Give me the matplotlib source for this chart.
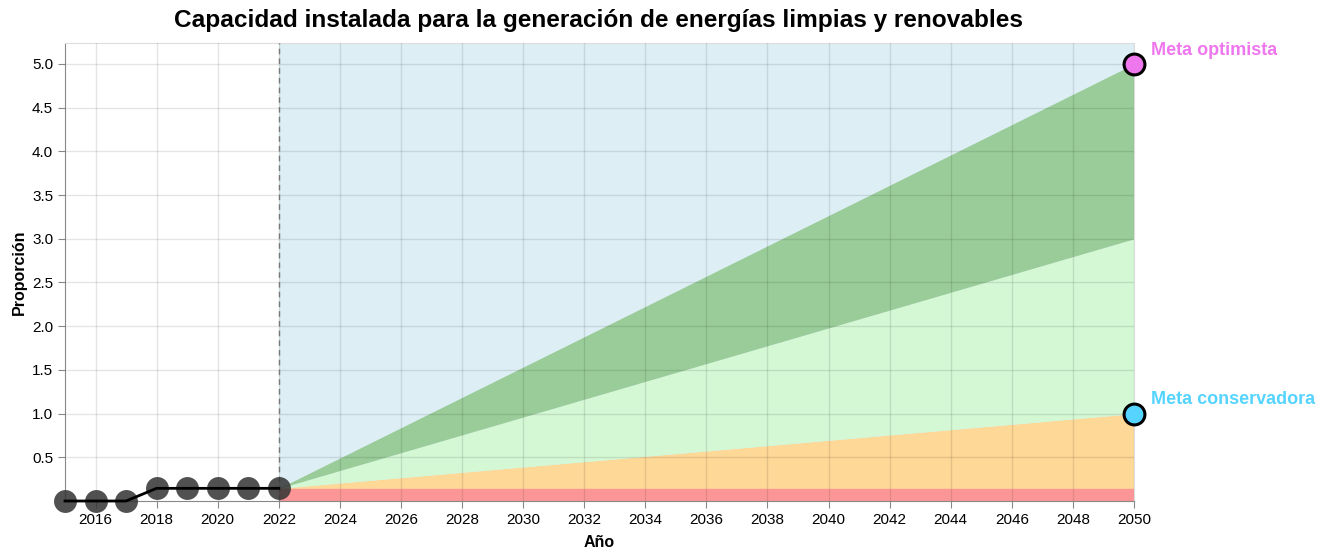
import numpy as np
import matplotlib
matplotlib.use("Agg")
import matplotlib.pyplot as plt

plt.rcParams['font.family'] = ['Liberation Sans', 'DejaVu Sans']

# historical data
years_hist = [2015, 2016, 2017, 2018, 2019, 2020, 2021, 2022]
values_hist = [0, 0, 0, 0.145, 0.145, 0.145, 0.145, 0.145]

# projection bands (start 2022, end 2050)
proj_years = [2022, 2050]
base_level = [0.145, 0.145]
conservadora = [0.145, 1.0]
intermedia = [0.145, 3.0]
optimista = [0.145, 5.0]

meta_labels = ["Meta optimista", "Meta conservadora"]
meta_values = [5.0, 1.0]
meta_colors = ["#ee77ee", "#55d4ff"]

y_ticks = [0.5, 1.0, 1.5, 2.0, 2.5, 3.0, 3.5, 4.0, 4.5, 5.0]
x_ticks = list(range(2016, 2051, 2))

fig = plt.figure(figsize=(13.28, 5.5), dpi=100)
ax = fig.add_axes([65/1328, 1-501/550, (1134-65)/1328, (501-43)/550])
ymax = 5.24

ax.fill_between(proj_years, [0, 0], [ymax, ymax], color="#deeef5", lw=0, zorder=1)
ax.fill_between(proj_years, [0, 0], base_level, color="#fc9696", lw=0, zorder=2)
ax.fill_between(proj_years, base_level, conservadora, color="#fdd896", lw=0, zorder=2)
ax.fill_between(proj_years, conservadora, intermedia, color="#d4f7d4", lw=0, zorder=2)
ax.fill_between(proj_years, intermedia, optimista, color="#99cc99", lw=0, zorder=2)

# grid on top
for x in x_ticks:
    ax.axvline(x, color="black", alpha=0.1, lw=1, zorder=3)
for y in y_ticks:
    ax.axhline(y, color="black", alpha=0.1, lw=1, zorder=3)

ax.axvline(2022, color="#777777", lw=1, ls=(0, (4, 3)), zorder=4)

ax.scatter(years_hist, values_hist, s=16.5**2, color="#333333", alpha=0.85,
           lw=0, zorder=5, clip_on=False)
ax.plot(years_hist, values_hist, color="black", lw=2, zorder=6, clip_on=False)

for lab, v, c in zip(meta_labels, meta_values, meta_colors):
    ax.plot([2050], [v], "o", ms=15, mfc=c, mec="black", mew=2.2, zorder=7, clip_on=False)
    ax.annotate(lab, (2050, v), xytext=(12, 10), textcoords="offset points",
                color=c, fontsize=13, fontweight="bold", va="center", ha="left")

ax.set_xlim(2015, 2050)
ax.set_ylim(0, ymax)
ax.set_xticks(x_ticks)
ax.set_xticklabels([str(x) for x in x_ticks])
ax.set_yticks(y_ticks)
ax.set_yticklabels([f"{y:.1f}" for y in y_ticks])
ax.tick_params(labelsize=11, color="#888888", length=5, labelcolor="black")

for s in ["top", "right"]:
    ax.spines[s].set_color("#dddddd")
for s in ["left", "bottom"]:
    ax.spines[s].set_color("#888888")

ax.set_xlabel("Año", fontsize=11.5, fontweight="bold", labelpad=6)
ax.set_ylabel("Proporción", fontsize=11.5, fontweight="bold", labelpad=4)
fig.suptitle("Capacidad instalada para la generación de energías limpias y renovables",
             x=599/1328, y=1-20/550, va="center", fontsize=17.6, fontweight="bold")

fig.savefig("out.png", dpi=100)
